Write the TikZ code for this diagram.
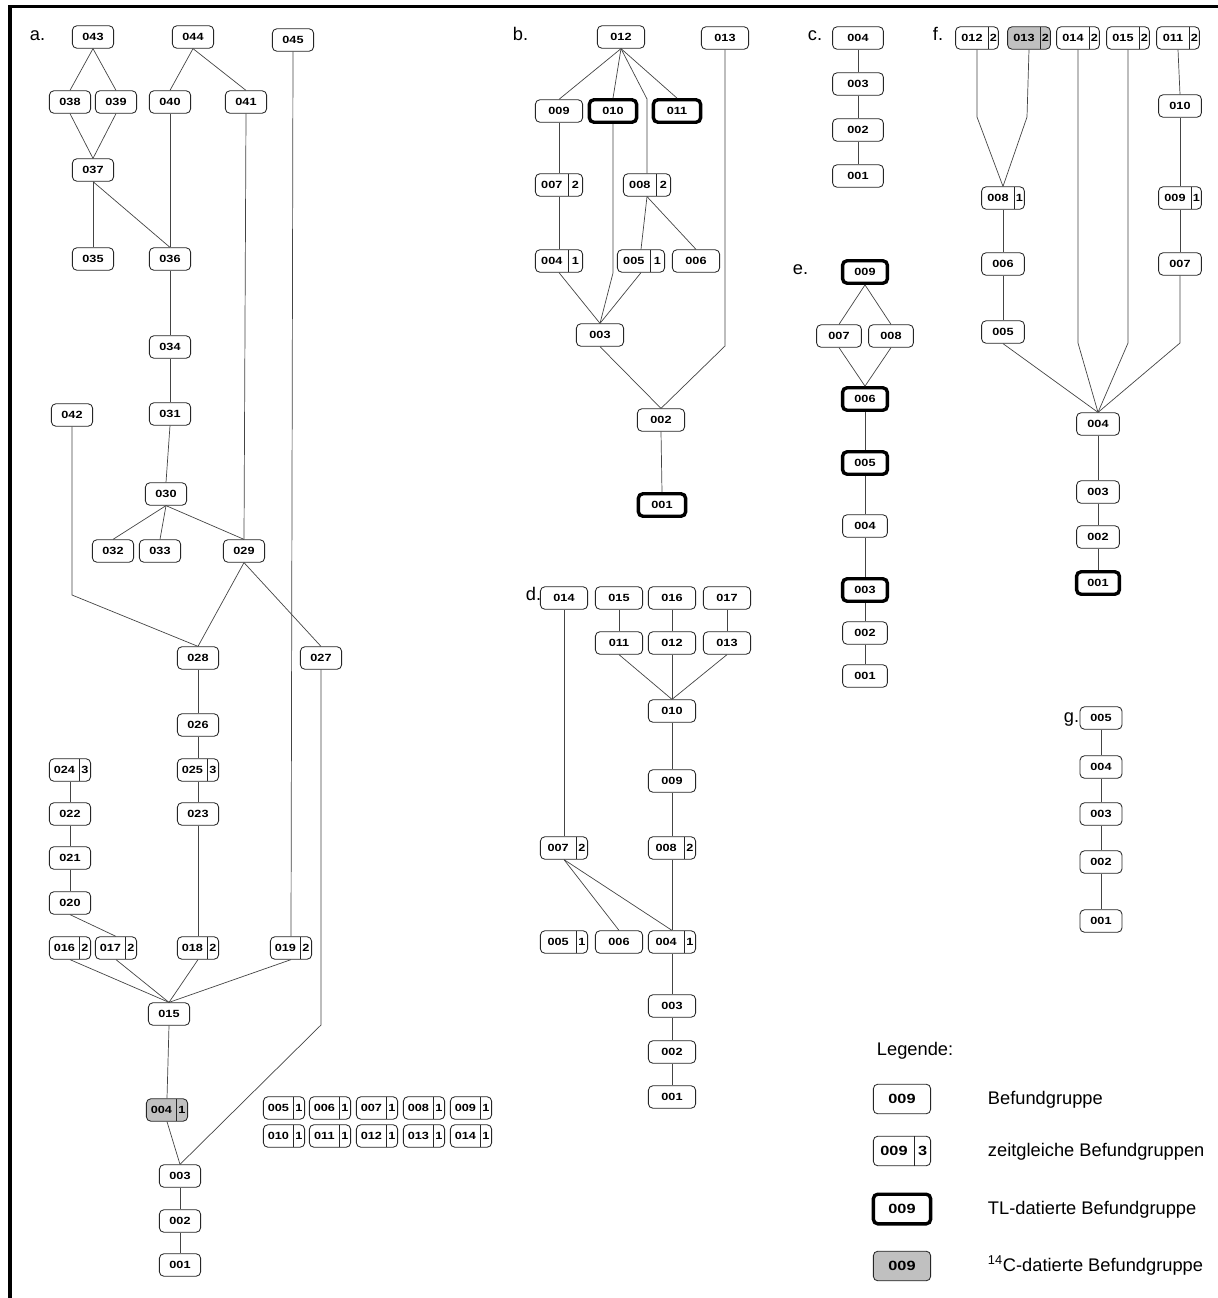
\documentclass[tikz,border=0pt]{standalone}
\usepackage{fontspec}
\setmainfont{Liberation Sans}
\newfontfamily\boxfont[FakeStretch=1.22]{Liberation Sans}
\usetikzlibrary{positioning}
\definecolor{cdate}   {HTML}{C0C0C0}
\definecolor{edgegray}{HTML}{444444}
\newlength\boxw
\newlength\boxr
\newlength\boxl
\newcommand{\zg}[2]{\setlength\boxl{\boxw}\addtolength\boxl{-\boxr}%
  \makebox[\boxl][c]{#1}\makebox[\boxr][c]{#2}}

\begin{document}
\begin{tikzpicture}[x=0.025cm, y=-0.025cm,
   bef/.style={draw=black!85, line width=0.6pt, rounded corners=0.11cm, fill=white,
               inner sep=0pt, minimum width=\boxw, minimum height=0.56cm,
               font=\boxfont\bfseries\fontsize{7.4}{8}\selectfont},
   zg/.style={bef, path picture={\draw[line width=0.5pt]
               ([xshift=-\boxr]path picture bounding box.north east) --
               ([xshift=-\boxr]path picture bounding box.south east);}},
   tl/.style={draw=black, line width=2.4pt},
   cd/.style={fill=cdate},
   legbox/.style={minimum height=0.74cm, font=\boxfont\bfseries\fontsize{9.5}{11}\selectfont},
   edge/.style={draw=edgegray, line width=0.5pt},
   lab/.style={anchor=base west, font=\fontsize{13}{15}\selectfont}
]
\useasboundingbox (0,0) rectangle (1218,1298);
\draw[line width=2.5pt] (10,1298) -- (10,6.5) -- (1218,6.5);

% a.
\setlength\boxw{1.03cm}\setlength\boxr{0.28cm}
\node[lab] (la) at (25,40) {a.};
\foreach \n/\x/\y in {043/93/37,044/193/37,045/293/40,038/70/102,039/116/102,040/170/102,
    041/246/102,037/93/170,035/93/259,036/170/259,034/170/347,042/72/415,031/170/414,
    030/166/494,032/113/551,033/160/551,029/244/551,028/198/658,027/321/658,026/198/725,
    022/70/814,023/198/814,021/70/858,020/70/903,015/169/1014,003/180/1176,002/180/1221,001/180/1265}
  \node[bef] (a\n) at (\x,\y) {\n};
\foreach \n/\s/\x/\y in {024/3/70/770,025/3/198/770,016/2/70/948,017/2/116/948,018/2/198/948,019/2/291/948}
  \node[zg] (a\n) at (\x,\y) {\zg{\n}{\s}};
\node[zg, cd] (a004) at (167,1110) {\zg{004}{1}};
\foreach \n/\m/\x in {005/010/284,006/011/330,007/012/377,008/013/424,009/014/471}{
  \node[zg] (a\n) at (\x,1108) {\zg{\n}{1}};
  \node[zg] (a\m) at (\x,1136) {\zg{\m}{1}};
}
\foreach \s/\t in {043/038,043/039,038/037,039/037,044/040,044/041,037/035,037/036,040/036,
    036/034,034/031,031/030,030/032,030/033,030/029,041/029,029/028,029/027,028/026,026/025,
    025/023,023/018,024/022,022/021,021/020,020/017,016/015,017/015,018/015,019/015,045/019,
    015/004,004/003,003/002,002/001}
  \draw[edge] (a\s.south) -- (a\t.north);
\draw[edge] (a042.south) -- (72,595) -- (a028.north);
\draw[edge] (a027.south) -- (321,1025) -- (a003.north);

% b.
\setlength\boxw{1.18cm}\setlength\boxr{0.36cm}
\node[lab] (lb) at (508,40) {b.};
\foreach \n/\x/\y in {012/621/37,013/725/38,009/559/111,006/696/261,003/600/335,002/661/420}
  \node[bef] (b\n) at (\x,\y) {\n};
\foreach \n/\x/\y in {010/613/111,011/677/111,001/662/505}
  \node[bef, tl] (b\n) at (\x,\y) {\n};
\foreach \n/\s/\x/\y in {007/2/559/185,008/2/647/185,004/1/559/261,005/1/641/261}
  \node[zg] (b\n) at (\x,\y) {\zg{\n}{\s}};
\foreach \s/\t in {012/009,012/010,012/011,009/007,007/004,008/005,008/006,004/003,005/003,
    003/002,002/001}
  \draw[edge] (b\s.south) -- (b\t.north);
\draw[edge] (b012.south) -- (647,99) -- (b008.north);
\draw[edge] (b010.south) -- (613,273) -- (b003.north);
\draw[edge] (b013.south) -- (725,346) -- (b002.north);

% c.
\setlength\boxw{1.27cm}
\node[lab] (lc) at (803,40) {c.};
\foreach \n/\y in {004/38,003/84,002/130,001/176}
  \node[bef] (c\n) at (858,\y) {\n};
\foreach \s/\t in {004/003,003/002,002/001}
  \draw[edge] (c\s.south) -- (c\t.north);

% d.
\setlength\boxw{1.18cm}\setlength\boxr{0.29cm}
\node[lab] (ld) at (521,600) {d.};
\foreach \n/\x/\y in {014/564/598,015/619/598,016/672/598,017/727/598,011/619/643,012/672/643,
    013/727/643,010/672/711,009/672/781,006/619/942,003/672/1006,002/672/1052,001/672/1097}
  \node[bef] (d\n) at (\x,\y) {\n};
\foreach \n/\s/\x/\y in {007/2/564/848,008/2/672/848,005/1/564/942,004/1/672/942}
  \node[zg] (d\n) at (\x,\y) {\zg{\n}{\s}};
\foreach \s/\t in {014/007,015/011,016/012,017/013,011/010,012/010,013/010,010/009,009/008,
    008/004,007/006,007/004,004/003,003/002,002/001}
  \draw[edge] (d\s.south) -- (d\t.north);

% e.
\setlength\boxw{1.12cm}
\node[lab] (le) at (788,274) {e.};
\foreach \n/\x/\y in {007/839/336,008/891/336,004/865/526,002/865/633,001/865/676}
  \node[bef] (e\n) at (\x,\y) {\n};
\foreach \n/\y in {009/272,006/399,005/463,003/590}
  \node[bef, tl] (e\n) at (865,\y) {\n};
\foreach \s/\t in {009/007,009/008,007/006,008/006,006/005,005/004,004/003,003/002,002/001}
  \draw[edge] (e\s.south) -- (e\t.north);

% f.
\setlength\boxw{1.07cm}\setlength\boxr{0.25cm}
\node[lab] (lf) at (928,40) {f.};
\foreach \n/\s/\x/\y in {012/2/977/38,014/2/1078/38,015/2/1128/38,011/2/1178/38,008/1/1003/198,009/1/1180/198}
  \node[zg] (f\n) at (\x,\y) {\zg{\n}{\s}};
\node[zg, cd] (f013) at (1029,38) {\zg{013}{2}};
\foreach \n/\x/\y in {010/1180/106,006/1003/264,007/1180/264,005/1003/332,004/1098/424,
    003/1098/492,002/1098/537}
  \node[bef] (f\n) at (\x,\y) {\n};
\node[bef, tl] (f001) at (1098,583) {001};
\foreach \s/\t in {011/010,010/009,009/007,008/006,006/005,005/004,004/003,003/002,002/001}
  \draw[edge] (f\s.south) -- (f\t.north);
\draw[edge] (f012.south) -- (977,117) -- (f008.north);
\draw[edge] (f013.south) -- (1027,117) -- (f008.north);
\foreach \s/\x in {014/1078,015/1128,007/1180}
  \draw[edge] (f\s.south) -- (\x,343) -- (f004.north);

% g.
\setlength\boxw{1.05cm}
\node[lab] (lg) at (1059,722) {g.};
\foreach \n/\y in {005/718,004/767,003/814,002/862,001/921}
  \node[bef] (g\n) at (1101,\y) {\n};
\foreach \s/\t in {005/004,004/003,003/002,002/001}
  \draw[edge] (g\s.south) -- (g\t.north);

% Legende
\setlength\boxw{1.43cm}\setlength\boxr{0.4cm}
\node[lab] (leg) at (872,1055) {Legende:};
\node[bef, legbox] (k1) at (902,1099) {009};
\node[zg, legbox] (k2) at (902,1151) {\zg{009}{3}};
\node[bef, legbox, tl] (k3) at (902,1209) {009};
\node[bef, legbox, cd] (k4) at (902,1266) {009};
\node[lab] (t1) at (983,1104) {Befundgruppe};
\node[lab] (t2) at (983,1156) {zeitgleiche Befundgruppen};
\node[lab] (t3) at (983,1214) {TL-datierte Befundgruppe};
\node[lab] (t4) at (983,1271) {\textsuperscript{14}C-datierte Befundgruppe};
\end{tikzpicture}
\end{document}
